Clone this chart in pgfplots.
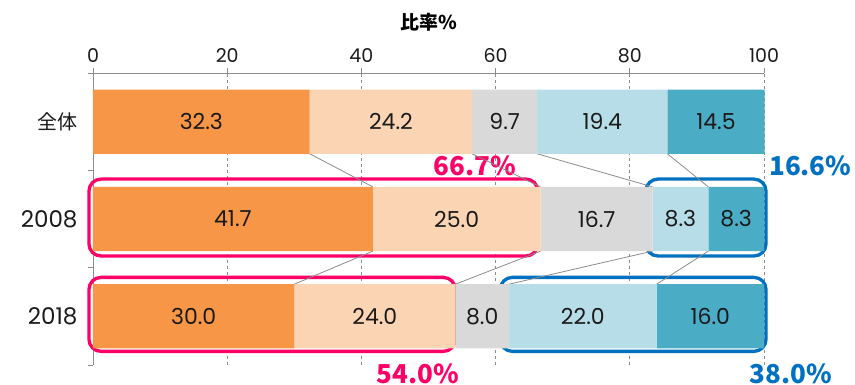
\documentclass[border=0pt]{standalone}
\usepackage{pgfplots}
\pgfplotsset{compat=1.18}
\usepackage{pgfplotstable}
\usepackage{fontspec}
\setmainfont{Poppins}
\newfontfamily\cjk{Noto Sans CJK JP}
\definecolor{c1}{HTML}{F79646}
\definecolor{c2}{HTML}{FBD4B4}
\definecolor{c3}{HTML}{D9D9D9}
\definecolor{c4}{HTML}{B7DEE8}
\definecolor{c5}{HTML}{4BACC6}
\definecolor{pk}{HTML}{FF0066}
\definecolor{bl}{HTML}{0070C0}
\definecolor{ax}{HTML}{8C8C8C}
\definecolor{tx}{HTML}{1A1A1A}
\pgfplotstableread{
y a b c d e
2 32.3 24.2 9.7 19.4 14.5
1 41.7 25.0 16.7 8.3 8.3
0 30.0 24.0 8.0 22.0 16.0
}\data
\begin{document}
\begin{tikzpicture}[x=1pt,y=1pt]
\useasboundingbox (-93,-20) rectangle (762,365);
\begin{axis}[
  at={(0,0)}, anchor=south west,
  scale only axis, width=671pt, height=292pt,
  xbar stacked, bar width=0.66,
  xmin=0, xmax=100, ymin=-0.5, ymax=2.5,
  clip=false,
  axis x line*=top, axis y line*=left,
  axis line style={draw=ax, line width=0.9pt},
  xtick={0,20,40,60,80,100},
  xmajorgrids,
  major grid style={draw=ax, dashed, line width=0.8pt},
  tick align=outside, major tick length=5pt,
  tick style={draw=ax, line width=0.9pt},
  xticklabel style={font=\fontsize{19}{21}\selectfont, text=tx, yshift=2pt},
  /pgf/number format/assume math mode=true,
  ytick={-0.5,0.5,1.5,2.5}, yticklabels={},
  yticklabel style={font=\fontsize{23}{26}\selectfont, text=tx, xshift=-12pt},
  extra y ticks={0,1,2},
  extra y tick labels={2018,2008,{\cjk\fontsize{20}{24}\selectfont 全体}},
  extra y tick style={major tick length=0pt, grid=none},
  point meta=explicit symbolic,
  nodes near coords={\pgfplotspointmeta},
  every node near coord/.append style={anchor=center, font=\fontsize{22}{26}\selectfont, text=tx},
]
\addplot[fill=c1, draw=none] table[x=a,y=y,meta=a]{\data};
\addplot[fill=c2, draw=none] table[x=b,y=y,meta=b]{\data};
\addplot[fill=c3, draw=none] table[x=c,y=y,meta=c]{\data};
\addplot[fill=c4, draw=none] table[x=d,y=y,meta=d]{\data};
\addplot[fill=c5, draw=none] table[x=e,y=y,meta=e]{\data};
% connectors
\draw[ax, line width=0.8pt] (axis cs:32.3,1.67) -- (axis cs:41.7,1.33);
\draw[ax, line width=0.8pt] (axis cs:56.5,1.67) -- (axis cs:66.7,1.33);
\draw[ax, line width=0.8pt] (axis cs:66.2,1.67) -- (axis cs:83.4,1.33);
\draw[ax, line width=0.8pt] (axis cs:85.6,1.67) -- (axis cs:91.7,1.33);
\draw[ax, line width=0.8pt] (axis cs:41.7,0.67) -- (axis cs:30.0,0.33);
\draw[ax, line width=0.8pt] (axis cs:66.7,0.67) -- (axis cs:54.0,0.33);
\draw[ax, line width=0.8pt] (axis cs:83.4,0.67) -- (axis cs:62.0,0.33);
\draw[ax, line width=0.8pt] (axis cs:91.7,0.67) -- (axis cs:84.0,0.33);
% boxes
\draw[pk, line width=3.3pt, rounded corners=12pt] (axis cs:-0.6,0.62) rectangle (axis cs:66.3,1.41);
\draw[pk, line width=3.3pt, rounded corners=12pt] (axis cs:-0.6,-0.36) rectangle (axis cs:54.0,0.40);
\draw[bl, line width=3.3pt, rounded corners=12pt] (axis cs:82.4,0.62) rectangle (axis cs:100.3,1.41);
\draw[bl, line width=3.3pt, rounded corners=12pt] (axis cs:60.7,-0.36) rectangle (axis cs:100.3,0.40);
% annotations
\node[pk, font=\cjk\bfseries\fontsize{26}{28}\selectfont] at (axis cs:56.9,1.544) {66.7\%};
\node[bl, font=\cjk\bfseries\fontsize{26}{28}\selectfont] at (axis cs:106.9,1.544) {16.6\%};
\node[pk, font=\cjk\bfseries\fontsize{26}{28}\selectfont] at (axis cs:48.4,-0.59) {54.0\%};
\node[bl, font=\cjk\bfseries\fontsize{26}{28}\selectfont] at (axis cs:104.0,-0.59) {38.0\%};
\node[font=\cjk\bfseries\fontsize{19}{22}\selectfont, text=black] at ([yshift=51pt]rel axis cs:0.5,1) {比率\%};
\end{axis}
\end{tikzpicture}
\end{document}
